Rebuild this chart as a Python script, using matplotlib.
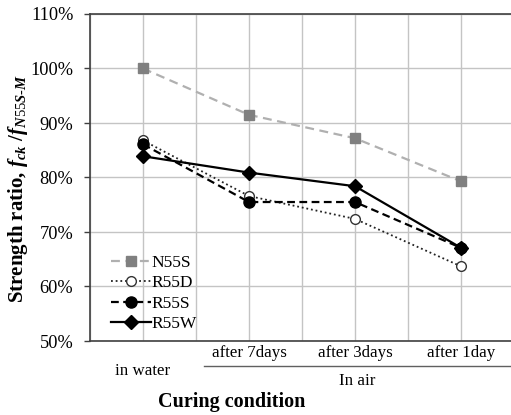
import matplotlib
matplotlib.use("Agg")
import matplotlib.pyplot as plt
import matplotlib.transforms as mtransforms

plt.rcParams["font.family"] = ["Liberation Serif", "DejaVu Serif"]
plt.rcParams["mathtext.fontset"] = "custom"
plt.rcParams["mathtext.rm"] = "Liberation Serif"
plt.rcParams["mathtext.it"] = "Liberation Serif:italic:bold"
plt.rcParams["mathtext.bf"] = "Liberation Serif:bold"

# ---------------------------------------------------------------------------
# Data (strength ratio, %)
# ---------------------------------------------------------------------------
x_pos = [1, 3, 5, 7]
conditions = ["in water", "after 7days", "after 3days", "after 1day"]
n55s = [100.0, 91.5, 87.2, 79.3]
r55d = [86.8, 76.6, 72.4, 63.7]
r55s = [86.1, 75.5, 75.5, 67.1]
r55w = [83.9, 80.9, 78.4, 67.1]
y_ticks = [50, 60, 70, 80, 90, 100, 110]

fig = plt.figure(figsize=(5.11, 4.15), dpi=100)
W, H = 511, 415
# axes: left 90px, top 14px, bottom 341px, 53px per x unit
ax = fig.add_axes([90 / W, 1 - 341 / H, 424 / W, (341 - 14) / H])
ax.set_xlim(0, 8)
ax.set_ylim(50, 110)

ax.plot(x_pos, n55s, color="#b0b0b0", ls=(0, (4, 2.5)), lw=1.6,
        marker="s", ms=7.5, mfc="#808080", mec="#808080", label="N55S", zorder=3)
ax.plot(x_pos, r55d, color="#222222", ls=(0, (1, 1.6)), lw=1.3,
        marker="o", ms=7, mfc="white", mec="#333333", mew=1.0, label="R55D", zorder=4)
ax.plot(x_pos, r55s, color="black", ls=(0, (3.5, 2)), lw=1.6,
        marker="o", ms=8, mfc="black", mec="black", label="R55S", zorder=5)
ax.plot(x_pos, r55w, color="black", ls="-", lw=1.6,
        marker="D", ms=7.5, mfc="black", mec="black", label="R55W", zorder=6)

# grid
ax.set_xticks(range(0, 9))
ax.set_yticks(y_ticks)
ax.grid(True, color="#c4c4c4", lw=1.0)
ax.set_axisbelow(True)
ax.set_yticklabels([f"{v}%" for v in y_ticks], fontsize=13.2)
ax.tick_params(axis="x", length=0, labelbottom=False)
ax.tick_params(axis="y", length=4, width=1.0, color="#404040", pad=8)

for side in ("left", "bottom", "top"):
    ax.spines[side].set_color("#404040")
    ax.spines[side].set_linewidth(1.2)
ax.spines["right"].set_visible(False)

# category labels below axis
trans = mtransforms.blended_transform_factory(ax.transData, fig.transFigure)
ax.text(x_pos[0], 1 - 371 / H, conditions[0], transform=trans,
        ha="center", va="center", fontsize=12.2)
for xp, lab in zip(x_pos[1:], conditions[1:]):
    ax.text(xp, 1 - 353 / H, lab, transform=trans,
            ha="center", va="center", fontsize=12.2)
ax.plot([2.15, 8.2], [1 - 366 / H, 1 - 366 / H], transform=trans,
        color="#606060", lw=1.0, clip_on=False)
ax.text(5.05, 1 - 381 / H, "In air", transform=trans,
        ha="center", va="center", fontsize=12.2)

fig.text(232 / W, 1 - 402 / H, "Curing condition", ha="center", va="center",
         fontsize=14.5, fontweight="bold")
fig.text(18 / W, 1 - 188 / H,
         r"Strength ratio, $f_{ck}$ /$f_{N55S\text{-}M}$",
         rotation=90, ha="center", va="center", fontsize=15, fontweight="bold")

ax.legend(loc="lower left", bbox_to_anchor=(0.025, -0.005), frameon=False,
          fontsize=12.5, handlelength=2.3, handletextpad=0.05, labelspacing=0.25,
          borderaxespad=0.2)

fig.savefig("out.png", dpi=100)
